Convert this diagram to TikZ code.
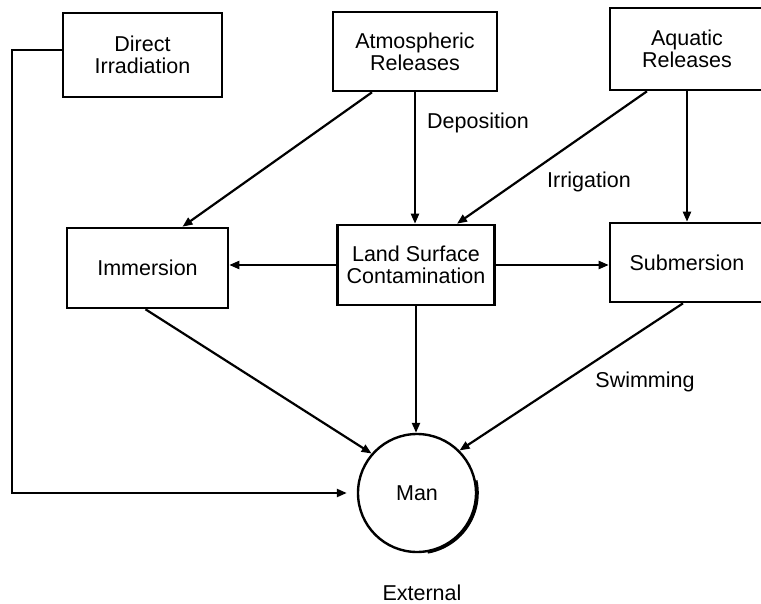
\documentclass[tikz,border=0pt]{standalone}
\usepackage{fontspec}
\setmainfont{Liberation Sans}
\usetikzlibrary{arrows.meta}

\begin{document}
\begin{tikzpicture}[x=1pt,y=-1pt,
        font=\fontsize{21.5}{22}\selectfont,
        box/.style={draw,line width=2.6pt,align=center,inner sep=2pt},
        link/.style={line width=2.2pt,-{Triangle[length=10pt,width=8pt]}}]
                \useasboundingbox (0,0) rectangle (761,604);
                \node [box,minimum width=159pt,minimum height=84pt] (irr) at (142.5,55) {Direct\\Irradiation};
                \node [box,minimum width=164pt,minimum height=79pt] (atm) at (415,51.5) {Atmospheric\\Releases};
                \node [box,minimum width=154pt,minimum height=82pt] (aqu) at (687,49) {Aquatic\\Releases};
                \node [box,minimum width=161pt,minimum height=80pt] (imm) at (147.5,268) {Immersion};
                \node [box,minimum width=157pt,minimum height=80pt] (land) at (416,265) {Land Surface\\Contamination};
                \node [box,minimum width=154pt,minimum height=79pt] (sub) at (687,262.5) {Submersion};
                \node [draw,circle,line width=2.4pt,minimum size=118pt] (man) at (417,493) {Man};
                \draw [line width=3.2pt] (man.12) arc [start angle=12,end angle=-80,radius=60pt];
                \draw [link] ([xshift=-43pt]atm.south) -- ([xshift=35pt]imm.north);
                \draw [link] (atm.south) -- (atm.south |- land.north);
                \draw [link] ([xshift=-40pt]aqu.south) -- ([xshift=41pt]land.north);
                \draw [link] (aqu.south) -- (aqu.south |- sub.north);
                \draw [link] (land.west) -- (land.west -| imm.east);
                \draw [link] (land.east) -- (land.east -| sub.west);
                \draw [link] (land.south) -- (land.south |- man.north);
                \draw [link] ([xshift=-2pt]imm.south) -- (man.139);
                \draw [link] ([xshift=-4pt]sub.south) -- (man.45);
                \draw [link] ([yshift=5pt]irr.west) -- ++(-50,0) |- ([xshift=-10pt]man.west);
                \node (dep) at (478,123) {Deposition};
                \node (irg) at (589,182) {Irrigation};
                \node (swim) at (645,382) {Swimming};
                \node (ext) at (422,593) {External};
            \end{tikzpicture}
\end{document}
